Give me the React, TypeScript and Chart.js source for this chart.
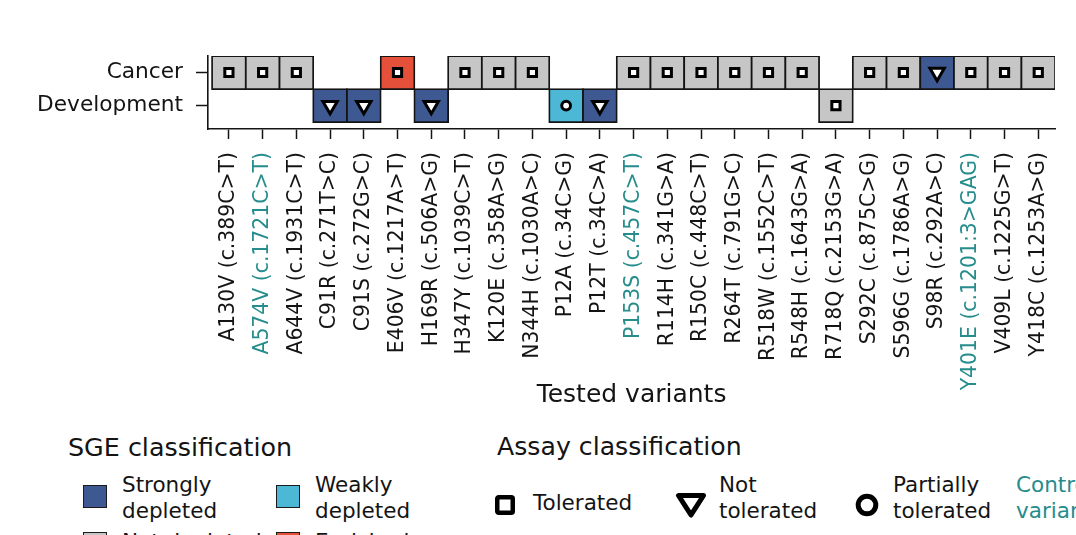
import React, { useEffect, useRef } from 'react';
import { Chart, registerables } from 'chart.js';

Chart.register(...registerables);

const FONT = "'DejaVu Sans', 'Noto Sans', sans-serif";
const INK = '#141414';
const TEAL = '#268c8c';

// ---- data ----
const variants = [
  'A130V (c.389C>T)', 'A574V (c.1721C>T)', 'A644V (c.1931C>T)', 'C91R (c.271T>C)',
  'C91S (c.272G>C)', 'E406V (c.1217A>T)', 'H169R (c.506A>G)', 'H347Y (c.1039C>T)',
  'K120E (c.358A>G)', 'N344H (c.1030A>C)', 'P12A (c.34C>G)', 'P12T (c.34C>A)',
  'P153S (c.457C>T)', 'R114H (c.341G>A)', 'R150C (c.448C>T)', 'R264T (c.791G>C)',
  'R518W (c.1552C>T)', 'R548H (c.1643G>A)', 'R718Q (c.2153G>A)', 'S292C (c.875C>G)',
  'S596G (c.1786A>G)', 'S98R (c.292A>C)', 'Y401E (c.1201:3>GAG)', 'V409L (c.1225G>T)',
  'Y418C (c.1253A>G)',
];
const controlVariants = ['A574V (c.1721C>T)', 'P153S (c.457C>T)', 'Y401E (c.1201:3>GAG)'];
const rowLabels = ['Development', 'Cancer'];

const sgeClasses = ['Strongly depleted', 'Weakly depleted', 'Not depleted', 'Enriched'];
const sgeColors = ['#3e5891', '#4cb8d6', '#c6c6c6', '#e5503b'];
const sgeLegendText = ['Strongly\ndepleted', 'Weakly\ndepleted', 'Not depleted', 'Enriched'];

const assayClasses = ['Tolerated', 'Not tolerated', 'Partially tolerated'];
const assayLegendText = ['Tolerated', 'Not\ntolerated', 'Partially\ntolerated'];
const markerShapes = ['rect', 'triangle', 'circle'];
const markerRotations = [0, 180, 0];
const markerRadii = [5.8, 8.3, 4.4];

const N = 'Not depleted';
const cancerSGE = [
  N, N, N, null, null, 'Enriched', null, N, N, N, null, null, N, N, N, N, N, N, null,
  N, N, 'Strongly depleted', N, N, N,
];
const T = 'Tolerated';
const cancerAssay = [
  T, T, T, null, null, T, null, T, T, T, null, null, T, T, T, T, T, T, null,
  T, T, 'Not tolerated', T, T, T,
];
const developmentSGE = [
  null, null, null, 'Strongly depleted', 'Strongly depleted', null, 'Strongly depleted',
  null, null, null, 'Weakly depleted', 'Strongly depleted', null, null, null, null, null,
  null, N, null, null, null, null, null, null,
];
const developmentAssay = [
  null, null, null, 'Not tolerated', 'Not tolerated', null, 'Not tolerated',
  null, null, null, 'Partially tolerated', 'Not tolerated', null, null, null, null, null,
  null, T, null, null, null, null, null, null,
];

function LegendText({ text, left, top, color = INK }: { text: string; left: number; top: number; color?: string }) {
  return (
    <div
      style={{
        position: 'absolute', left, top, fontSize: 21.5, lineHeight: '26px',
        whiteSpace: 'pre', color, fontFamily: FONT,
      }}
    >
      {text}
    </div>
  );
}

function AssayMarker({ kind, left, top }: { kind: number; left: number; top: number }) {
  if (kind === 0) {
    return (
      <svg style={{ position: 'absolute', left, top }} width={20} height={20}>
        <rect x={2.25} y={2.25} width={15.5} height={15.5} rx={1.5} fill="#fff" stroke="#000" strokeWidth={4.5} />
      </svg>
    );
  }
  if (kind === 1) {
    return (
      <svg style={{ position: 'absolute', left, top }} width={32} height={27}>
        <polygon points="3.5,3.5 28.5,3.5 16,23" fill="#fff" stroke="#000" strokeWidth={5} strokeLinejoin="round" />
      </svg>
    );
  }
  return (
    <svg style={{ position: 'absolute', left, top }} width={24} height={24}>
      <circle cx={12} cy={12} r={8.8} fill="#fff" stroke="#000" strokeWidth={5} />
    </svg>
  );
}

export default function App() {
  const canvasRef = useRef<HTMLCanvasElement>(null);

  useEffect(() => {
    document.body.style.margin = '0';
    const canvas = canvasRef.current;
    if (!canvas) return;

    const rowSeries = [
      { row: 1, sge: cancerSGE, assay: cancerAssay },
      { row: 0, sge: developmentSGE, assay: developmentAssay },
    ];

    const cellSets: any[] = rowSeries.map((r) => {
      const data: any[] = [];
      const colors: string[] = [];
      r.sge.forEach((c, i) => {
        if (!c) return;
        data.push({ x: i, y: [r.row - 0.5, r.row + 0.5] });
        colors.push(sgeColors[sgeClasses.indexOf(c)]);
      });
      return {
        type: 'bar',
        label: rowLabels[r.row],
        data,
        backgroundColor: colors,
        borderColor: INK,
        borderWidth: 1.8,
        inflateAmount: 0.9,
        borderSkipped: false,
        grouped: false,
        barPercentage: 1,
        categoryPercentage: 1,
        order: 2,
      };
    });

    const markerSets: any[] = assayClasses.map((a, k) => {
      const data: any[] = [];
      rowSeries.forEach((r) =>
        r.assay.forEach((v, i) => {
          if (v === a) data.push({ x: i, y: r.row });
        })
      );
      return {
        type: 'scatter',
        label: a,
        data,
        pointStyle: markerShapes[k],
        pointRadius: markerRadii[k],
        pointRotation: markerRotations[k],
        pointBackgroundColor: '#ffffff',
        pointBorderColor: '#000000',
        pointBorderWidth: 3,
        pointHoverRadius: markerRadii[k],
        order: 1,
      };
    });

    const chart = new Chart(canvas, {
      type: 'bar',
      data: { datasets: [...cellSets, ...markerSets] },
      options: {
        animation: false,
        responsive: false,
        events: [],
        layout: { padding: { left: 0, top: 56, right: 13, bottom: 0 } },
        plugins: { legend: { display: false }, tooltip: { enabled: false } },
        scales: {
          x: {
            type: 'linear',
            min: -0.62,
            max: 24.5,
            offset: false,
            afterFit: (scale: any) => { scale.height = 420 - 129; },
            afterBuildTicks: (scale: any) => { scale.ticks = variants.map((_, i) => ({ value: i })); },
            grid: {
              offset: false,
              drawOnChartArea: false,
              drawTicks: true,
              tickLength: 10,
              tickColor: INK,
              tickWidth: 1.5,
              color: INK,
            },
            border: { display: true, color: INK, width: 1.6 },
            ticks: {
              autoSkip: false,
              minRotation: 90,
              maxRotation: 90,
              padding: 13,
              font: { family: FONT, size: 20.4 },
              color: (ctx: any) =>
                controlVariants.includes(variants[ctx.tick?.value]) ? TEAL : INK,
              callback: (v: any) => variants[v as number],
            },
            title: {
              display: true,
              text: 'Tested variants',
              color: INK,
              font: { family: FONT, size: 25 },
              padding: { top: 0, bottom: 10 },
            },
          },
          y: {
            type: 'linear',
            min: -0.71,
            max: 1.5,
            afterFit: (scale: any) => { scale.width = 208; },
            afterBuildTicks: (scale: any) => { scale.ticks = rowLabels.map((_, i) => ({ value: i })); },
            grid: {
              drawOnChartArea: false,
              drawTicks: true,
              tickLength: 12,
              tickColor: INK,
              tickWidth: 1.5,
              color: INK,
            },
            border: { display: true, color: INK, width: 1.6 },
            ticks: {
              padding: 13,
              font: { family: FONT, size: 21.7 },
              color: INK,
              callback: (v: any) => rowLabels[v as number],
            },
          },
        },
      } as any,
    });

    return () => chart.destroy();
  }, []);

  const sgeCols = [83, 276];
  const sgeRows = [485, 532];
  const assaySymbolX = [495, 675, 855];
  const assaySymbolY = [495, 492, 493];
  const assayTextX = [533, 719, 893];

  return (
    <div style={{ position: 'relative', width: 1076, height: 535, overflow: 'hidden', fontFamily: FONT, color: INK }}>
      <canvas ref={canvasRef} width={1076} height={420} style={{ position: 'absolute', left: 0, top: 0 }} />

      <div style={{ position: 'absolute', left: 68, top: 432, fontSize: 25.4, lineHeight: '30px', whiteSpace: 'pre' }}>
        SGE classification
      </div>
      {sgeClasses.map((c, i) => {
        const left = sgeCols[i % 2];
        const top = sgeRows[Math.floor(i / 2)];
        const twoLine = sgeLegendText[i].includes('\n');
        return (
          <React.Fragment key={c}>
            <div
              style={{
                position: 'absolute', left, top, width: 24, height: 23, boxSizing: 'border-box',
                background: sgeColors[i], border: '1.5px solid #1b1b1b',
              }}
            />
            <LegendText text={sgeLegendText[i]} left={left + 39} top={twoLine ? top - 13 : top - 3} />
          </React.Fragment>
        );
      })}

      <div style={{ position: 'absolute', left: 497, top: 432, fontSize: 25.2, lineHeight: '30px', whiteSpace: 'pre' }}>
        Assay classification
      </div>
      {assayClasses.map((a, k) => (
        <React.Fragment key={a}>
          <AssayMarker kind={k} left={assaySymbolX[k]} top={assaySymbolY[k]} />
          <LegendText
            text={assayLegendText[k]}
            left={assayTextX[k]}
            top={assayLegendText[k].includes('\n') ? 472 : 490}
          />
        </React.Fragment>
      ))}
      <LegendText text={'Control\nvariants'} left={1016} top={472} color={TEAL} />
    </div>
  );
}
